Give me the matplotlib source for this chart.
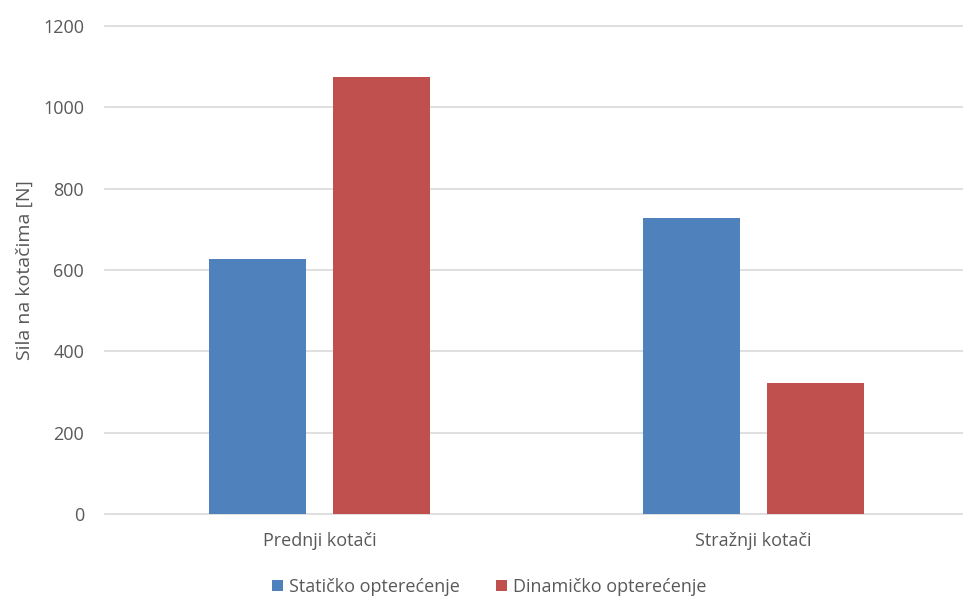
import matplotlib.pyplot as plt
import numpy as np

# podaci
kategorije = ["Prednji kotači", "Stražnji kotači"]
staticko = [627, 728]
dinamicko = [1075, 322]
y_ticks = [0, 200, 400, 600, 800, 1000, 1200]

plt.rcParams["font.family"] = ["Open Sans", "DejaVu Sans"]
txt_color = "#595959"

fig = plt.figure(figsize=(9.63, 5.96), dpi=100)
ax = fig.add_axes([105 / 963, 82 / 596, 858 / 963, 488 / 596])

x = np.arange(len(kategorije))
w = 0.224
off = (w + 0.062) / 2
ax.bar(x - off, staticko, w, color="#4F81BD", label="Statičko opterećenje", zorder=3)
ax.bar(x + off, dinamicko, w, color="#C0504D", label="Dinamičko opterećenje", zorder=3)

ax.set_ylim(0, 1200)
ax.set_xlim(-0.495, 1.484)
ax.set_yticks(y_ticks)
ax.set_yticklabels([str(t) for t in y_ticks])
ax.set_xticks(x)
ax.set_xticklabels(kategorije)
ax.grid(axis="y", color="#D9D9D9", linewidth=1.2, zorder=0)
for g in ax.get_ygridlines():
    g.set_clip_on(False)
for s in ax.spines.values():
    s.set_visible(False)
ax.tick_params(axis="y", length=0, pad=15, labelsize=13, labelcolor=txt_color)
ax.tick_params(axis="x", length=0, pad=13, labelsize=13, labelcolor=txt_color)

ax.set_ylabel("Sila na kotačima [N]", fontsize=14, color=txt_color)
ax.yaxis.set_label_coords(-0.083, 0.5)

ax.legend(loc="center", bbox_to_anchor=(0.448, -0.149), ncol=2, frameon=False,
          fontsize=13, labelcolor=txt_color, handlelength=0.6, handleheight=0.6,
          handletextpad=0.35, columnspacing=2.0)

fig.savefig("out.png", dpi=100)
